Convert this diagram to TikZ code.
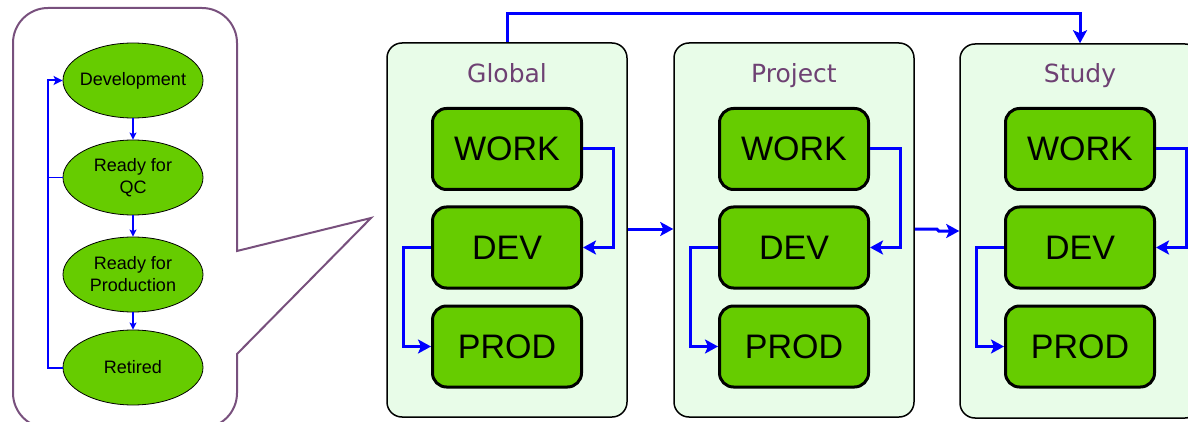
\documentclass[tikz,border=0pt]{standalone}
\usepackage{fontspec}
\setmainfont{Liberation Sans}
\newfontfamily\titlefont{DejaVu Sans}
\usetikzlibrary{arrows.meta,shapes.geometric}
\definecolor{lgreen}{RGB}{102,204,0}
\definecolor{panelbg}{RGB}{232,252,232}
\definecolor{bubblecol}{RGB}{120,80,125}
\definecolor{titlecol}{RGB}{110,65,115}
\begin{document}
\begin{tikzpicture}[x=1pt,y=-1pt,
  panel/.style={draw=black, line width=1.5pt, fill=panelbg, rounded corners=15pt, minimum width=240, minimum height=374, inner sep=0},
  stagebox/.style={draw=black, line width=3pt, fill=lgreen, rounded corners=14pt, minimum width=149, minimum height=81, inner sep=0, font=\fontsize{34}{40}\selectfont},
  paneltitle/.style={text=titlecol, font=\titlefont\fontsize{25}{30}\selectfont, inner sep=0, anchor=base},
  state/.style={ellipse, draw=black, line width=0.8pt, fill=lgreen, minimum width=140, minimum height=75, inner xsep=-8pt, inner ysep=0pt, align=center, font=\fontsize{18}{22}\selectfont},
  bigarrow/.style={draw=blue, line width=3pt, -{Stealth[length=13pt,width=14pt,inset=3pt]}},
  smallarrow/.style={draw=blue, line width=1.5pt, -{Stealth[length=7pt,width=7pt,inset=1.5pt]}},
  looparrow/.style={draw=blue, line width=2pt, -{Stealth[length=9pt,width=9pt,inset=2pt]}},
  thinline/.style={draw=blue, line width=1pt},
  bubble/.style={draw=bubblecol, line width=2pt}
]
\useasboundingbox (0,0) rectangle (1188,422);

% speech bubble
\draw[bubble] (237,251) [rounded corners=35pt] -- (237,8) -- (13,8) -- (13,428) -- (237,428) [sharp corners] -- (237,354) -- (371,218) -- cycle;

% lifecycle states
\node[state] (dev) at (133,80.5) {Development};
\node[state] (qc) at (133,177.5) {Ready for\\QC};
\node[state] (rfp) at (133,274.5) {Ready for\\Production};
\node[state] (ret) at (133,367.5) {Retired};
\draw[smallarrow] (dev) -- (qc);
\draw[smallarrow] (qc) -- (rfp);
\draw[smallarrow] (rfp) -- (ret);
\draw[looparrow] (ret.west) -- ++(-15,0) |- (dev.west);
\draw[thinline] (qc.west) -- ++(-15,0);

% panels
\node[panel] (G) at (507,230) {};
\node[panel] (P) at (794,230) {};
\node[panel] (S) at (1080,231) {};
\node[paneltitle] (Gt) at (507,83) {Global};
\node[paneltitle] (Pt) at (794,83) {Project};
\node[paneltitle] (St) at (1080,83) {Study};

\foreach \n/\cx in {G/507, P/794, S/1080} {
  \node[stagebox] (\n w) at (\cx,149) {WORK};
  \node[stagebox] (\n d) at (\cx,247.5) {DEV};
  \node[stagebox] (\n p) at (\cx,346.5) {PROD};
  \draw[bigarrow] (\n w.east) -- ++(30,0) |- (\n d.east);
  \draw[bigarrow] (\n d.west) -- ++(-28,0) |- (\n p.west);
}

% connectors between panels
\draw[bigarrow] ([yshift=1pt]G.east) -- ([yshift=1pt]P.west);
\draw[bigarrow] ([yshift=1pt]P.east) -- ++(22,0) -- ++(2,2) -- ([yshift=0pt]S.west);
\draw[bigarrow] (G.north) -- ++(0,-29) -| (S.north);
\end{tikzpicture}
\end{document}
